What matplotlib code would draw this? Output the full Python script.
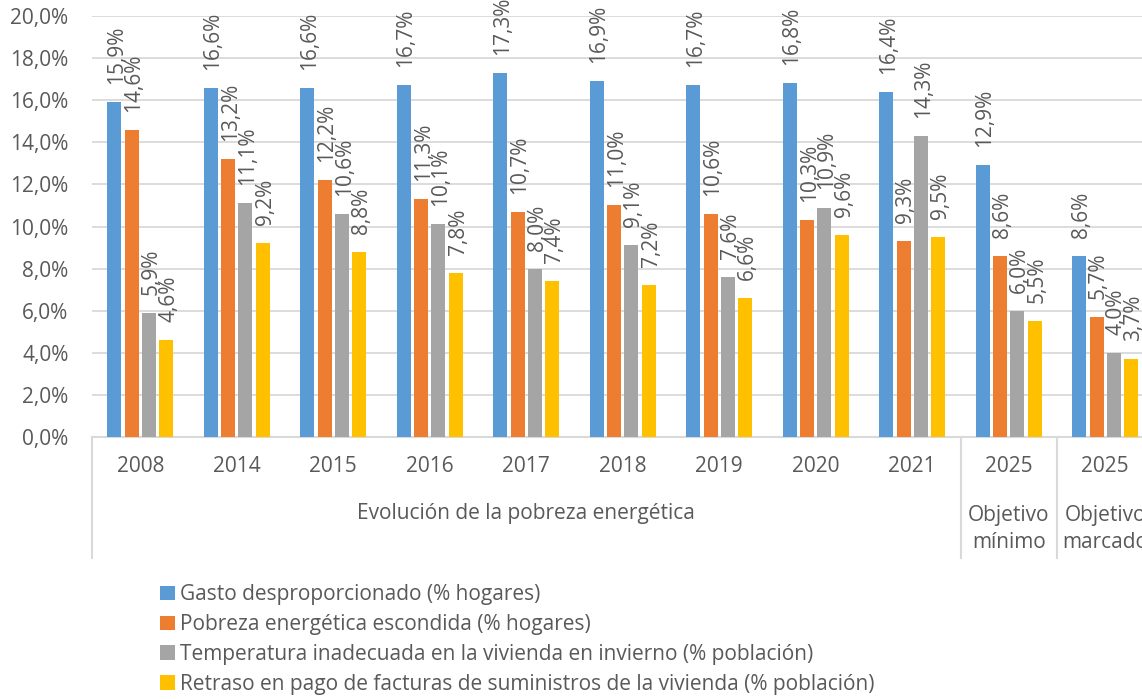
import numpy as np
import matplotlib
matplotlib.use('Agg')
import matplotlib.pyplot as plt
import matplotlib.transforms as mtransforms

# Data
years = ['2008', '2014', '2015', '2016', '2017', '2018', '2019', '2020', '2021', '2025', '2025']
gasto = [15.9, 16.6, 16.6, 16.7, 17.3, 16.9, 16.7, 16.8, 16.4, 12.9, 8.6]
escondida = [14.6, 13.2, 12.2, 11.3, 10.7, 11.0, 10.6, 10.3, 9.3, 8.6, 5.7]
temperatura = [5.9, 11.1, 10.6, 10.1, 8.0, 9.1, 7.6, 10.9, 14.3, 6.0, 4.0]
retraso = [4.6, 9.2, 8.8, 7.8, 7.4, 7.2, 6.6, 9.6, 9.5, 5.5, 3.7]
series_names = ['Gasto desproporcionado (% hogares)',
                'Pobreza energética escondida (% hogares)',
                'Temperatura inadecuada en la vivienda en invierno (% población)',
                'Retraso en pago de facturas de suministros de la vivienda (% población)']
groups = ['Evolución de la pobreza energética', 'Objetivo\nmínimo', 'Objetivo\nmarcado']

colors = ['#5B9BD5', '#ED7D31', '#A5A5A5', '#FFC000']
text_color = '#595959'
grid_color = '#D9D9D9'
fs = 15.0

plt.rcParams['font.family'] = ['Open Sans', 'DejaVu Sans']

fig = plt.figure(figsize=(11.42, 6.99), dpi=100)
W, H = 1142, 699
# axes: left 92px, right 1153px (chart is cut off on the right), y0 at 437px, 20% at 16px
y0, ytop = 437, 16
ax = fig.add_axes([92 / W, (H - y0) / H, (1153.5 - 92) / W, (y0 - ytop) / H])

x = np.arange(len(years))
pitch = 0.181
bw = 0.145
all_series = [gasto, escondida, temperatura, retraso]
for i, (vals, name, c) in enumerate(zip(all_series, series_names, colors)):
    pos = x + (i - 1.5) * pitch
    ax.bar(pos, vals, width=bw, color=c, label=name, zorder=3)
    for px, v in zip(pos, vals):
        ax.annotate(f'{v:.1f}%'.replace('.', ','), (px, v), xytext=(1.5, 13),
                    textcoords='offset points', rotation=90, ha='center', va='bottom',
                    fontsize=fs, color=text_color, annotation_clip=False)

ax.set_xlim(-0.5, len(years) - 0.5)
ax.set_ylim(0, 20)
ax.set_yticks(np.arange(0, 21, 2))
ax.set_yticklabels([f'{t:.1f}%'.replace('.', ',') for t in np.arange(0, 21, 2)])
ax.tick_params(axis='y', length=0, pad=17, labelsize=fs, labelcolor=text_color)
ax.set_xticks([])
ax.grid(axis='y', color=grid_color, linewidth=1.3, zorder=0)
for s in ['left', 'right', 'top']:
    ax.spines[s].set_visible(False)
ax.spines['bottom'].set_color(grid_color)
ax.spines['bottom'].set_linewidth(1.5)

# category labels
trans = mtransforms.blended_transform_factory(ax.transData, ax.transAxes)
px_per_ax = y0 - ytop
for xi, yr in zip(x, years):
    ax.text(xi, -(467 - y0) / px_per_ax, yr, transform=trans, ha='center', va='center',
            fontsize=fs, color=text_color)
ax.text(4, -(513 - y0) / px_per_ax, groups[0], transform=trans, ha='center', va='center',
        fontsize=fs, color=text_color)
ax.text(9, -(529 - y0) / px_per_ax, groups[1], transform=trans, ha='center', va='center',
        fontsize=fs, color=text_color, linespacing=1.4)
ax.text(10, -(529 - y0) / px_per_ax, groups[2], transform=trans, ha='center', va='center',
        fontsize=fs, color=text_color, linespacing=1.4)

# group separators
y_low = -(558 - y0) / px_per_ax
for xs in [-0.5, 8.5, 9.5]:
    ax.plot([xs, xs], [0, y_low], transform=trans, color=grid_color, linewidth=1.5,
            clip_on=False)

fig.legend(loc='upper left', bbox_to_anchor=(150 / W, 1 - 574 / H), frameon=False,
           fontsize=fs, labelcolor=text_color, handlelength=0.7, handleheight=0.7,
           handletextpad=0.25, labelspacing=0.42, borderpad=0)

fig.savefig('out.png', dpi=100)
